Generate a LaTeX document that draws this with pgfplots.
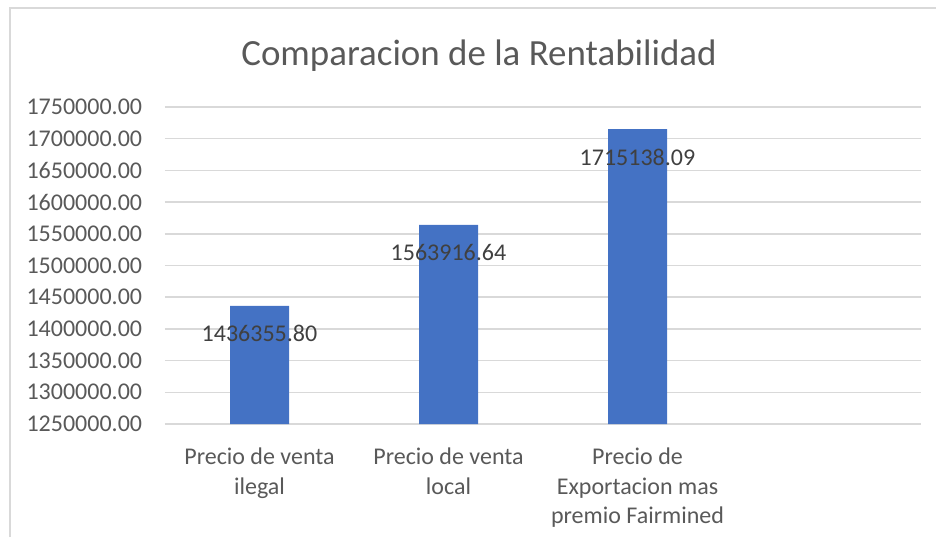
\documentclass[border=0pt]{standalone}
\usepackage{pgfplots}
\pgfplotsset{compat=1.18}
\usepackage{fontspec}
\setmainfont{Carlito}
\definecolor{barblue}{HTML}{4472C4}
\definecolor{gridgray}{HTML}{D9D9D9}
\definecolor{txtgray}{HTML}{595959}
\definecolor{lblgray}{HTML}{404040}
\begin{document}
\begin{tikzpicture}
\path[use as bounding box] (0,0) rectangle (702pt,402.75pt);
\draw[gridgray, line width=0.9pt] (7.5pt,0pt) -- (7.5pt,396.75pt) -- (702pt,396.75pt);
\node[txtgray, font=\fontsize{27.7}{33}\selectfont] at (359.25pt,360.75pt) {Comparacion de la Rentabilidad};
\begin{axis}[
  at={(123.75pt,84.75pt)}, anchor=south west,
  scale only axis, width=567pt, height=237.75pt,
  ybar, bar width=44.25pt, bar shift=0pt,
  xmin=-0.5, xmax=3.5,
  ymin=1250000, ymax=1750000,
  scaled y ticks=false,
  ytick={1250000,1300000,1350000,1400000,1450000,1500000,1550000,1600000,1650000,1700000,1750000},
  yticklabels={1250000.00,1300000.00,1350000.00,1400000.00,1450000.00,1500000.00,1550000.00,1600000.00,1650000.00,1700000.00,1750000.00},
  xtick={0,1,2},
  xticklabels={{Precio de venta\\ilegal},{Precio de venta\\local},{Precio de\\Exportacion mas\\premio Fairmined}},
  axis line style={draw=none},
  major tick length=0pt,
  ymajorgrids, grid style={gridgray, line width=1.1pt},
  tick label style={txtgray, font=\fontsize{18}{22}\selectfont},
  xticklabel style={align=center, anchor=north, yshift=-14.5pt},
  yticklabel style={anchor=east, inner sep=0pt, xshift=-17pt},
  point meta=explicit symbolic,
  nodes near coords,
  every node near coord/.append style={anchor=center, yshift=-21pt, text=lblgray, font=\fontsize{18}{21.8}\selectfont},
]
\addplot[fill=barblue, draw=none] coordinates {
  (0,1436355.80) [1436355.80]
  (1,1563916.64) [1563916.64]
  (2,1715138.09) [1715138.09]
};
\end{axis}
\end{tikzpicture}
\end{document}
